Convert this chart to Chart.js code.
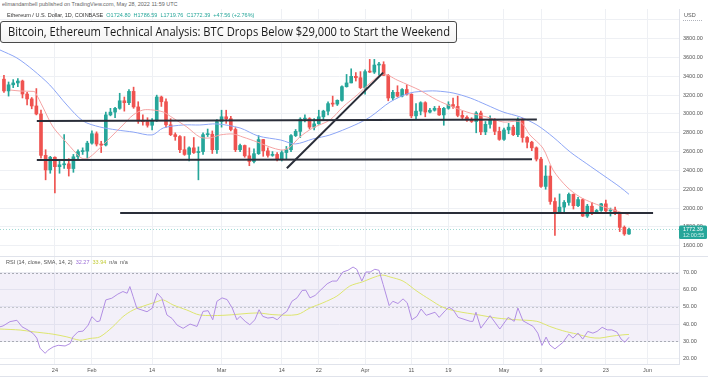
<!DOCTYPE html>
<html><head><meta charset="utf-8">
<script src="https://cdn.jsdelivr.net/npm/chart.js@4.4.0/dist/chart.umd.min.js"></script>
<style>
html,body{margin:0;padding:0;background:#fff;width:708px;height:381px;overflow:hidden;font-family:"Liberation Sans",Arial,sans-serif}
#wrap{position:relative;width:708px;height:381px;overflow:hidden}
canvas{position:absolute;left:0}
.s{position:absolute;white-space:nowrap;font-size:11px;transform:scale(0.5);transform-origin:left top;line-height:13px}
#title{position:absolute;left:0;top:21px;width:455px;height:20px;border:1px solid #4a4a4a;border-radius:3px;background:linear-gradient(#ffffff,#f3f3f3);box-sizing:content-box}
#ttext{position:absolute;left:7px;top:1px;font-family:"Open Sans",sans-serif;font-size:12.5px;line-height:18px;color:#1a1a1a;white-space:nowrap;transform-origin:left center}
</style></head><body>
<div id="wrap">
<canvas id="cA" width="708" height="247" style="top:9px"></canvas>
<canvas id="cB" width="708" height="125" style="top:256px"></canvas>
<div class="s" style="left:2px;top:1px;color:#666">elimandambell published on TradingView.com, May 28, 2022 11:59 UTC</div>
<div class="s" style="left:7px;top:12px;color:#333">Ethereum / U.S. Dollar, 1D, COINBASE&nbsp; <span style="color:#26a69a">O1724.80 &nbsp;H1786.59 &nbsp;L1719.76 &nbsp;C1772.39 &nbsp;+47.56 (+2.76%)</span></div>
<div class="s" style="left:684px;top:12px;color:#555">USD</div>
<div style="position:absolute;left:683px;top:20px;width:19px;border-top:1px dotted #b0b3bb"></div>
<div id="title"><span id="ttext">Bitcoin, Ethereum Technical Analysis: BTC Drops Below $29,000 to Start the Weekend</span></div>
<div class="s" style="left:6px;top:259px;color:#555">RSI (14, close, SMA, 14, 2)&nbsp; <span style="color:#9c6fd6">32.27</span>&nbsp; <span style="color:#c3cc3a">33.94</span>&nbsp; n/a&nbsp; n/a</div>
</div>
<script>
// ---- data (day index: 0 = Jan 12, 2022) ----
const opens  = [3370,3245,3310,3330,3350,3212,3160,3085,3000,2560,2405,2540,2440,2460,2470,2420,2545,2600,2605,2690,2790,2680,2670,2990,3020,3060,3140,3120,3240,3075,2925,2920,2880,2930,3180,3130,2885,2780,2760,2620,2570,2640,2590,2600,2780,2785,2620,2920,2970,2950,2835,2620,2665,2555,2495,2578,2728,2608,2560,2570,2515,2590,2620,2770,2815,2945,2950,2860,2895,2970,3030,3110,3105,3145,3290,3330,3400,3385,3280,3450,3445,3520,3525,3410,3170,3230,3190,3260,3210,2980,3030,3120,3020,3040,3060,2990,3060,3100,3080,2985,2965,2935,2920,3010,2810,2890,2935,2815,2730,2830,2860,2780,2940,2750,2700,2640,2520,2230,2340,2070,1960,2010,2060,2145,2025,2090,1915,2020,1960,1975,2045,1970,1980,1945,1795,1724.80];
const highs  = [3410,3340,3365,3375,3360,3230,3175,3270,3040,2620,2550,2545,2500,2780,2525,2570,2620,2640,2710,2820,2810,2710,3020,3060,3070,3220,3180,3260,3285,3130,2990,2960,2950,3200,3190,3160,2950,2800,2770,2760,2650,2750,2650,2800,2840,2820,2940,3040,3040,2975,2855,2680,2670,2640,2630,2770,2730,2640,2600,2590,2610,2655,2780,2835,2960,2990,2960,2950,3040,3040,3130,3190,3150,3300,3420,3480,3440,3450,3470,3580,3580,3550,3555,3420,3250,3300,3270,3310,3215,3110,3130,3130,3060,3080,3085,3070,3130,3170,3190,3030,2980,2960,3025,3030,2920,2980,2950,2860,2850,2900,2880,2960,2955,2760,2710,2650,2540,2450,2450,2110,2150,2080,2160,2150,2115,2100,2040,2060,1985,2050,2085,2000,2010,1950,1810,1786.59];
const lows   = [3230,3190,3280,3290,3170,3095,3055,2990,2530,2300,2370,2160,2370,2420,2340,2380,2520,2570,2530,2680,2660,2590,2660,2980,2960,3050,3030,3100,3060,2900,2880,2860,2830,2920,3080,2860,2770,2720,2590,2560,2500,2580,2300,2570,2760,2580,2580,2860,2900,2820,2600,2600,2540,2450,2480,2570,2550,2540,2550,2500,2500,2520,2600,2760,2750,2915,2840,2830,2890,2930,2990,3080,3090,3135,3285,3330,3350,3270,3210,3440,3430,3410,3410,3140,3150,3180,3180,3200,2960,2950,2990,2970,3010,3030,2985,2880,3050,3060,2970,2940,2920,2910,2800,2780,2780,2850,2780,2720,2720,2790,2770,2760,2700,2640,2610,2500,2220,2200,2040,1710,1960,1950,2030,1990,2015,1910,1900,1930,1945,1965,1960,1915,1930,1750,1710,1719.76];
const closes = [3245,3310,3330,3350,3212,3160,3085,3000,2560,2405,2540,2440,2460,2470,2420,2545,2600,2605,2690,2790,2680,2670,2990,3020,3060,3140,3120,3240,3075,2925,2920,2880,2930,3180,3130,2885,2780,2760,2620,2570,2640,2590,2600,2780,2785,2620,2920,2970,2950,2835,2620,2665,2555,2495,2578,2728,2608,2560,2570,2515,2590,2620,2770,2815,2945,2950,2860,2895,2970,3030,3110,3105,3145,3290,3330,3400,3385,3280,3450,3445,3520,3525,3410,3170,3230,3190,3260,3210,2980,3030,3120,3020,3040,3060,2990,3060,3100,3080,2985,2965,2935,2920,3010,2810,2890,2935,2815,2730,2830,2860,2780,2940,2750,2700,2640,2520,2230,2340,2070,1960,2010,2060,2145,2025,2090,1915,2020,1960,1975,2045,1970,1980,1945,1795,1725,1772.39];
const firstDay = 1; // Jan 13

const fastMA = [[2.3,3255],[4.5,3244],[7.3,3240],[7.7,3234],[9.4,3074],[11.6,2862],[14.6,2692],[17.4,2543],[18.5,2522],[19.6,2543],[21.7,2638],[23.9,2745],[26.7,2883],[28.9,2989],[31,3042],[33.2,3042],[35.4,3021],[37.5,2957],[40.5,2862],[43.3,2755],[45.5,2745],[47.7,2777],[50.5,2787],[52.6,2755],[55.7,2702],[59.1,2638],[61.3,2617],[62.8,2649],[64.9,2755],[67.7,2851],[71.4,2936],[74.2,3074],[77.3,3202],[80.1,3329],[82.9,3425],[85.9,3361],[88.7,3300],[90.9,3250],[94.5,3149],[98,3074],[101.7,3010],[105.3,2968],[108.8,2915],[112.5,2915],[114.6,2777],[117.4,2638],[119.6,2404],[122.6,2224],[125.4,2118],[128.2,2054],[131.3,2000],[134.1,1958],[136,1926]];
const slowMA = [[0.15,3680],[3.8,3595],[7.3,3467],[10.9,3308],[14.6,3095],[18.1,2925],[21.7,2862],[25.4,2830],[28.9,2808],[33,2777],[35.4,2851],[39.7,2883],[43.3,2883],[47,2894],[52,2851],[55.9,2766],[60.8,2723],[63.9,2681],[67.7,2734],[71.4,2777],[76.8,2883],[80.1,2968],[84.4,3127],[88.7,3223],[92.6,3244],[94.5,3244],[98,3223],[101.7,3170],[105.3,3095],[108.8,3021],[112.5,2968],[116.1,2883],[119.6,2755],[123.3,2596],[126.9,2470],[130.4,2350],[134.1,2222],[136,2146]];
const trendLines = [[8.1,2925,116.1,2940],[8.1,2512,115.05,2520],[62.1,2423,82.9,3439],[26.1,1948,141.2,1948]];

const rsi = [[0.15,38.4],[0.8,38.9],[2.3,41.4],[3.8,42.2],[4.9,38.4],[6.2,36.5],[7.3,34.5],[8.1,31.8],[8.8,25.9],[9.9,22.9],[10.5,24.7],[11.6,26.6],[12.7,27.6],[14.2,27.2],[15.3,28.6],[15.9,32.5],[17,35.5],[18.1,35.9],[19.2,39.4],[20,44.3],[21.1,41.4],[21.7,41.8],[23,54.1],[24.3,55.1],[25.6,57.5],[26.7,59],[27.6,58],[28.2,61.9],[28.9,56],[29.7,49.2],[30.8,48.2],[31.9,47.2],[33,49.2],[34.1,58],[35.1,55.1],[36.2,45.3],[37.3,43.3],[38.4,39.4],[39.7,37.5],[41.2,40],[42.7,38.6],[44,47.4],[45.1,47.8],[46.1,42.5],[47,53.3],[48.1,55.3],[49.2,54.3],[50.3,49.4],[51.3,42.5],[52,44.5],[53.1,41.6],[54.1,39.6],[55.2,42.5],[56.1,48.4],[56.9,44.5],[58,43.5],[59.1,43.9],[60,42.5],[61.1,45.5],[62.1,47.4],[63.2,53.3],[64.3,55.3],[65.4,59.6],[66.2,59.8],[67.1,55.3],[68.2,56.7],[69.3,59.6],[70.8,63.5],[71.9,65.1],[72.9,65.1],[74.2,70.4],[75.3,71.4],[76.4,73.3],[77.2,72],[78.3,65.1],[79.2,70.4],[80.1,70.4],[81.1,72],[82,71.4],[82.9,63.1],[84.2,50.8],[85,53.3],[86.1,52],[87.2,54.7],[88.1,52.4],[89.1,42.5],[90.2,44.5],[91.1,48.8],[92.2,45.1],[94.1,46.9],[95,43.9],[96.3,47.8],[97.1,49.8],[98,48.4],[99.1,43.9],[101.7,41.6],[102.3,41.6],[102.95,46.9],[104,37.6],[106,44.9],[108.1,37.1],[109.9,43.9],[111.2,41.6],[112,49.4],[113.1,41.9],[115.3,38.6],[116.3,34.7],[117.2,27.5],[118.1,32.4],[118.9,27.8],[120,25.5],[121.7,29.2],[123,34.1],[123.9,31.8],[125,34.7],[126,31.2],[127.1,35.7],[128.2,34.7],[129.1,35.7],[130.2,38.1],[131.3,36.6],[132.3,36.6],[133.4,35.3],[134.3,31.2],[135.1,29.4],[136,32.27]];
const rsiMA = [[0.15,37.1],[4.5,36.5],[7.3,35.5],[11.6,34.1],[14.6,32.5],[17.4,30.6],[19.6,31.6],[21.7,32.5],[24.5,38.4],[26.7,44.3],[28.9,48.2],[31.9,51.2],[34.1,53.1],[35.4,54.1],[37.5,51.2],[40.5,48.2],[43.3,45.3],[48.3,45.1],[55.7,46.5],[59.1,45.5],[64.3,45.5],[67.1,49.4],[69.9,52.4],[72.9,56.3],[75.7,62.2],[78.5,64.7],[80.7,67.1],[82.7,68.6],[84.4,67.5],[87.2,65.1],[90.2,59.2],[93,54.3],[95.8,49.8],[98.9,47.4],[103.2,45.5],[107.5,43.5],[111.8,42.5],[116.1,41.6],[118.9,38.6],[121.7,36.1],[124.8,34.1],[127.6,32.2],[129.7,31.8],[131.9,32.8],[134.7,33.7],[136,33.94]];

const xTickDays   = [12,20,33,48,61,69,79,89,97,109,117,131,140];
const xTickLabels = ["24","Feb","14","Mar","14","22","Apr","11","19","May","9","23","Jun"];
const priceTicks  = [1600,1800,2000,2200,2400,2600,2800,3000,3200,3400,3600,3800,4000];
const rsiTicks    = [20,30,40,50,60,70];
const countdown = "12:00:55";

// ---- styles / layout ----
const UP='#26a69a', DOWN='#ef5350', GRID='#eef0f4', AXIS='#e0e3eb', TXT='#555';
const FONT={family:'"Liberation Sans", Arial, sans-serif', size:5.5};
const X_MIN=0.147, X_MAX=146.8;
const P_MIN=1490.5, P_MAX=4115.6;
const R_MIN=16.67, R_MAX=79.75;

const days = closes.map((_,i)=>i+firstDay);
const colorOf = i => closes[i] >= opens[i] ? UP : DOWN;
const pts = arr => arr.map(p=>({x:p[0],y:p[1]}));

const xCommon = {
  type:'linear', min:X_MIN, max:X_MAX, offset:false,
  grid:{color:GRID, drawTicks:false, offset:false},
  afterBuildTicks: s => { s.ticks = xTickDays.map(v=>({value:v})); }
};
function yAfterFit(s){ s.width=29; s.paddingTop=0; s.paddingBottom=0; }

const priceLabel = {
  id:'priceLabel',
  afterDraw(chart){
    const ctx=chart.ctx, ys=chart.scales.y, last=closes[closes.length-1];
    const y=ys.getPixelForValue(last), l=chart.chartArea.right;
    ctx.save();
    ctx.fillStyle=UP;
    ctx.beginPath(); ctx.roundRect(l, y-4, 28, 13.5, 1.5); ctx.fill();
    ctx.font='5.5px "Liberation Sans", Arial, sans-serif';
    ctx.textBaseline='middle'; ctx.textAlign='left';
    ctx.fillStyle='#ffffff'; ctx.fillText(last.toFixed(2), l+4, y);
    ctx.fillStyle='#c9eeea'; ctx.fillText(countdown, l+4, y+6);
    ctx.restore();
  }
};

const dsA = [
  {type:'line', data:[{x:X_MIN,y:closes[closes.length-1]},{x:X_MAX,y:closes[closes.length-1]}], borderColor:'rgba(38,166,154,0.45)', borderWidth:1, borderDash:[1,2], pointRadius:0, order:9},
  {type:'bar', data:days.map((d,i)=>({x:d,y:[lows[i],highs[i]]})), backgroundColor:c=>colorOf(c.dataIndex), barThickness:1, grouped:false, borderWidth:0, order:8},
  {type:'bar', data:days.map((d,i)=>({x:d,y:[opens[i],closes[i]]})), backgroundColor:c=>colorOf(c.dataIndex), barThickness:3, minBarLength:1, grouped:false, borderWidth:0, order:7},
  {type:'line', data:pts(slowMA), borderColor:'#8da6f6', borderWidth:1, pointRadius:0, tension:0.3, order:5},
  {type:'line', data:pts(fastMA), borderColor:'#f5a3a3', borderWidth:1, pointRadius:0, tension:0.3, order:4},
];
trendLines.forEach(t=>dsA.push({type:'line', data:[{x:t[0],y:t[1]},{x:t[2],y:t[3]}], borderColor:'#2a2e39', borderWidth:2, pointRadius:0, order:1}));

new Chart(document.getElementById('cA'), {
  type:'bar',
  data:{datasets:dsA},
  options:{
    responsive:false, animation:false, devicePixelRatio:1,
    layout:{padding:0},
    plugins:{legend:{display:false}, tooltip:{enabled:false}},
    scales:{
      x:Object.assign({}, xCommon, {border:{display:false}, ticks:{display:false}, afterFit:s=>{s.height=0;s.paddingLeft=0;s.paddingRight=0;}}),
      y:{position:'right', min:P_MIN, max:P_MAX,
         grid:{color:GRID, drawTicks:false}, border:{color:AXIS},
         ticks:{font:FONT, color:TXT, padding:4, crossAlign:'near', callback:v=> v>=4000 ? '' : v.toFixed(2)},
         afterBuildTicks:s=>{ s.ticks = priceTicks.map(v=>({value:v})); },
         afterFit:yAfterFit}
    }
  },
  plugins:[priceLabel]
});

const rsiBand = {
  id:'rsiBand',
  beforeDatasetsDraw(chart){
    const ctx=chart.ctx, ys=chart.scales.y, a=chart.chartArea;
    const y70=ys.getPixelForValue(70), y50=ys.getPixelForValue(50), y30=ys.getPixelForValue(30);
    ctx.save();
    ctx.fillStyle='rgba(126,87,194,0.09)';
    ctx.fillRect(a.left, y70, a.right-a.left, y30-y70);
    ctx.lineWidth=1;
    ctx.setLineDash([2,2]);
    [[y70,'#a9abb5'],[y50,'#c4c6cd'],[y30,'#a9abb5']].forEach(([y,c])=>{
      ctx.strokeStyle=c; ctx.beginPath(); ctx.moveTo(a.left, Math.round(y)+0.5); ctx.lineTo(a.right, Math.round(y)+0.5); ctx.stroke();
    });
    ctx.setLineDash([]);
    ctx.strokeStyle=AXIS;
    ctx.beginPath(); ctx.moveTo(0,0.5); ctx.lineTo(chart.width,0.5); ctx.stroke();
    ctx.beginPath(); ctx.moveTo(0,chart.height-4.5); ctx.lineTo(chart.width,chart.height-4.5); ctx.stroke();
    ctx.restore();
  }
};

new Chart(document.getElementById('cB'), {
  type:'line',
  data:{datasets:[
    {data:pts(rsiMA), borderColor:'#dde56f', borderWidth:1, pointRadius:0, tension:0.3, order:2},
    {data:pts(rsi), borderColor:'#b18ee3', borderWidth:1, pointRadius:0, tension:0, order:1}
  ]},
  options:{
    responsive:false, animation:false, devicePixelRatio:1,
    layout:{padding:0},
    plugins:{legend:{display:false}, tooltip:{enabled:false}},
    scales:{
      x:Object.assign({}, xCommon, {border:{color:AXIS},
         ticks:{font:FONT, color:TXT, padding:3, maxRotation:0, autoSkip:false, callback:(v,i)=>xTickLabels[i]},
         afterFit:s=>{s.height=17;s.paddingLeft=0;s.paddingRight=0;}}),
      y:{position:'right', min:R_MIN, max:R_MAX,
         grid:{color:GRID, drawTicks:false}, border:{color:AXIS},
         ticks:{font:FONT, color:TXT, padding:4, crossAlign:'near', callback:v=>v.toFixed(2)},
         afterBuildTicks:s=>{ s.ticks = rsiTicks.map(v=>({value:v})); },
         afterFit:yAfterFit}
    }
  },
  plugins:[rsiBand]
});

// fit title text to the box width seen in the reference
const tt=document.getElementById('ttext');
const w=tt.getBoundingClientRect().width;
tt.style.transform='scaleX('+(442/w)+')';
</script>
</body></html>
